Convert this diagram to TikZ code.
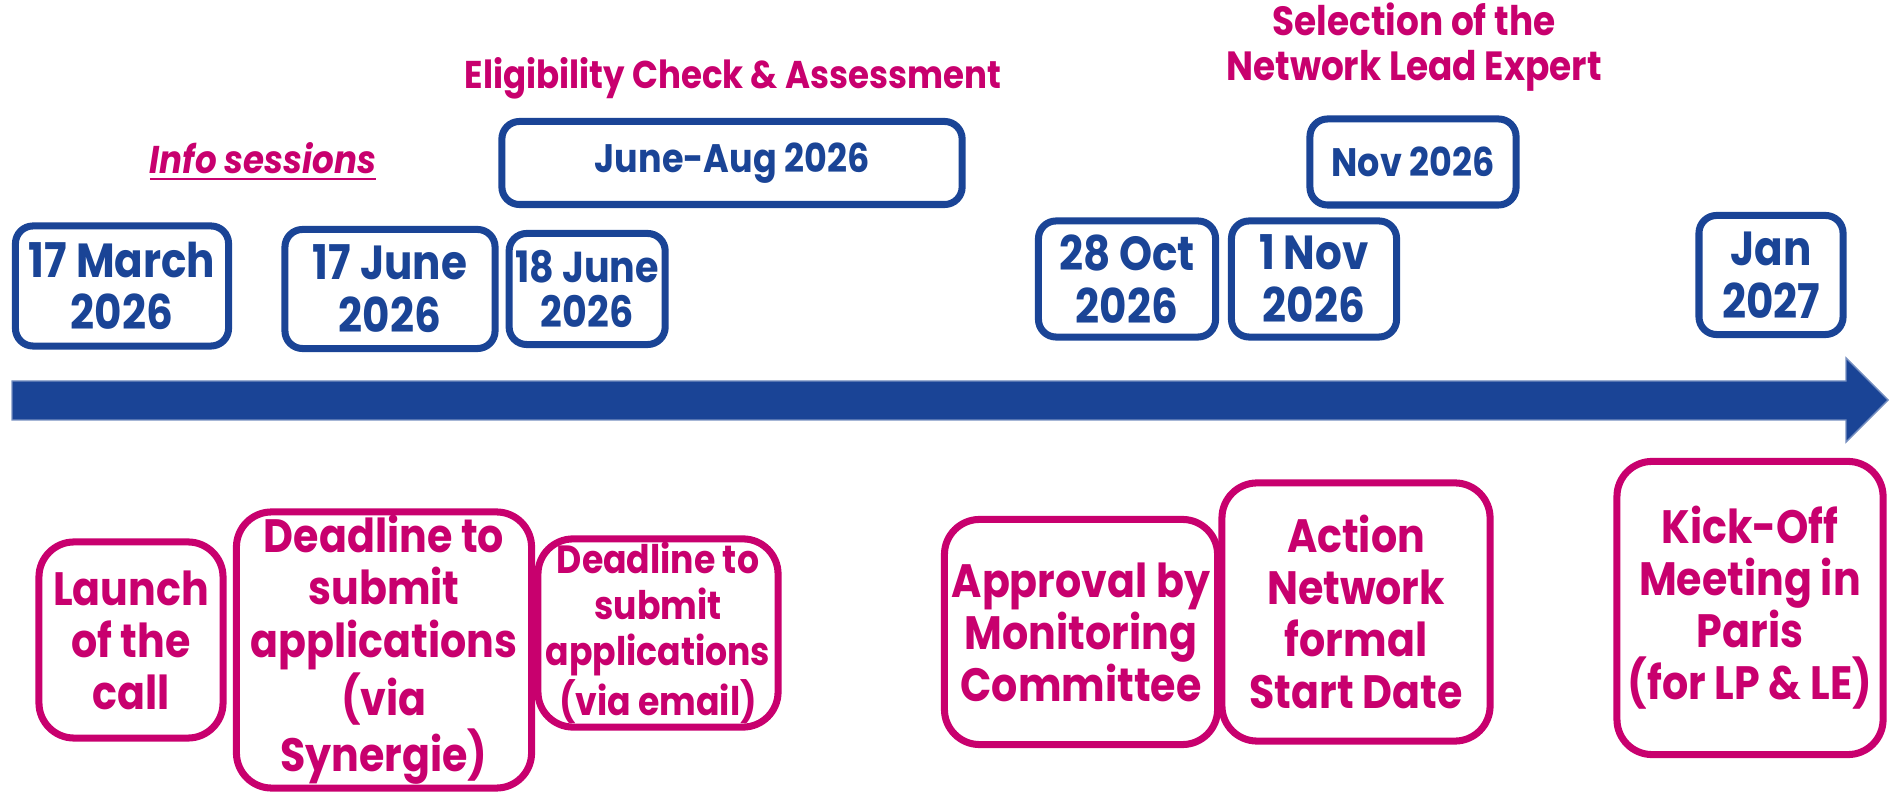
\documentclass[tikz,border=0pt]{standalone}
\usepackage{fontspec}
\setmainfont{Poppins}[FakeStretch=0.88]
\usepackage{tikz}
\usetikzlibrary{positioning}

\definecolor{tlblue}{RGB}{26,68,150}
\definecolor{tlpink}{RGB}{200,0,110}

\newcommand{\datefont}{\bfseries\fontsize{13.6}{15}\selectfont}
\newcommand{\smalldatefont}{\bfseries\fontsize{12.3}{13}\selectfont}
\newcommand{\monthfont}{\bfseries\fontsize{11.3}{13}\selectfont}
\newcommand{\eventfont}{\bfseries\fontsize{13.3}{14.8}\selectfont}
\newcommand{\smalleventfont}{\bfseries\fontsize{11.2}{13}\selectfont}

\begin{document}
\begin{tikzpicture}[
    x=0.01cm, y=-0.01cm,
    datebox/.style={draw=tlblue, line width=2pt, rounded corners=5pt,
        align=center, text=tlblue, font=\datefont, inner sep=1pt},
    eventbox/.style={draw=tlpink, line width=2pt, rounded corners=10pt,
        align=center, text=tlpink, font=\eventfont, inner sep=1pt},
    phase/.style={text=tlpink, font=\bfseries\fontsize{11}{13}\selectfont,
        align=center},
]
\useasboundingbox (0,0) rectangle (1892,792);

% ---- Timeline arrow ----
\fill[tlblue, draw=tlblue!60!white, line width=0.4pt]
    (12,381) -- (1846,381) -- (1846,358) -- (1888,400)
    -- (1846,442) -- (1846,420) -- (12,420) -- cycle;

% ---- Dates above the line ----
\node[datebox, minimum width=2.13cm, minimum height=1.20cm] (dmarch)
    at (122,286) {17 March\\2026};
\node[datebox, minimum width=2.10cm, minimum height=1.19cm] (djune17)
    at (390,289) {17 June\\2026};
\node[datebox, font=\smalldatefont, minimum width=1.56cm, minimum height=1.11cm,
    right=0.07cm of djune17] (djune18)
    {18 June\\2026};
\node[datebox, font=\monthfont, minimum width=4.60cm, minimum height=0.83cm]
    (dsummer) at (732,163) {June-Aug 2026};
\node[datebox, minimum width=1.77cm, minimum height=1.16cm] (doct28)
    at (1127,279) {28 Oct\\2026};
\node[datebox, minimum width=1.65cm, minimum height=1.16cm] (dnov1)
    at (1314,279) {1 Nov\\2026};
\node[datebox, font=\monthfont, minimum width=2.06cm, minimum height=0.86cm]
    (dnov) at (1413,162) {Nov 2026};
\node[datebox, minimum width=1.44cm, minimum height=1.19cm] (djan)
    at (1771,275) {Jan\\2027};

% ---- Phase labels ----
\node[phase, font=\bfseries\itshape\fontsize{11}{13}\selectfont] (info)
    at (263,162) {\underline{Info sessions}};
\node[phase] (elig) at (733,78) {Eligibility Check \& Assessment};
\node[phase, font=\bfseries\fontsize{11.6}{13}\selectfont] (select)
    at (1414,47) {Selection of the\\Network Lead Expert};

% ---- Events below the line ----
\node[eventbox, minimum width=1.84cm, minimum height=1.96cm] (launch)
    at (131,640) {Launch\\of the\\call};
\node[eventbox, minimum width=2.95cm, minimum height=2.73cm] (synergie)
    at (384,650) {Deadline to\\submit\\applications\\(via\\Synergie)};
\node[eventbox, font=\smalleventfont, minimum width=2.40cm, minimum height=1.87cm]
    (email) at (658,633) {Deadline to\\submit\\applications\\(via email)};
\node[eventbox, minimum width=2.73cm, minimum height=2.25cm] (approval)
    at (1081,632) {Approval by\\Monitoring\\Committee};
\node[eventbox, minimum width=2.68cm, minimum height=2.58cm] (start)
    at (1356,612) {Action\\Network\\formal\\Start Date};
\node[eventbox, minimum width=2.66cm, minimum height=2.93cm] (kickoff)
    at (1750,608) {Kick-Off\\Meeting in\\Paris\\(for LP \& LE)};

\end{tikzpicture}
\end{document}
